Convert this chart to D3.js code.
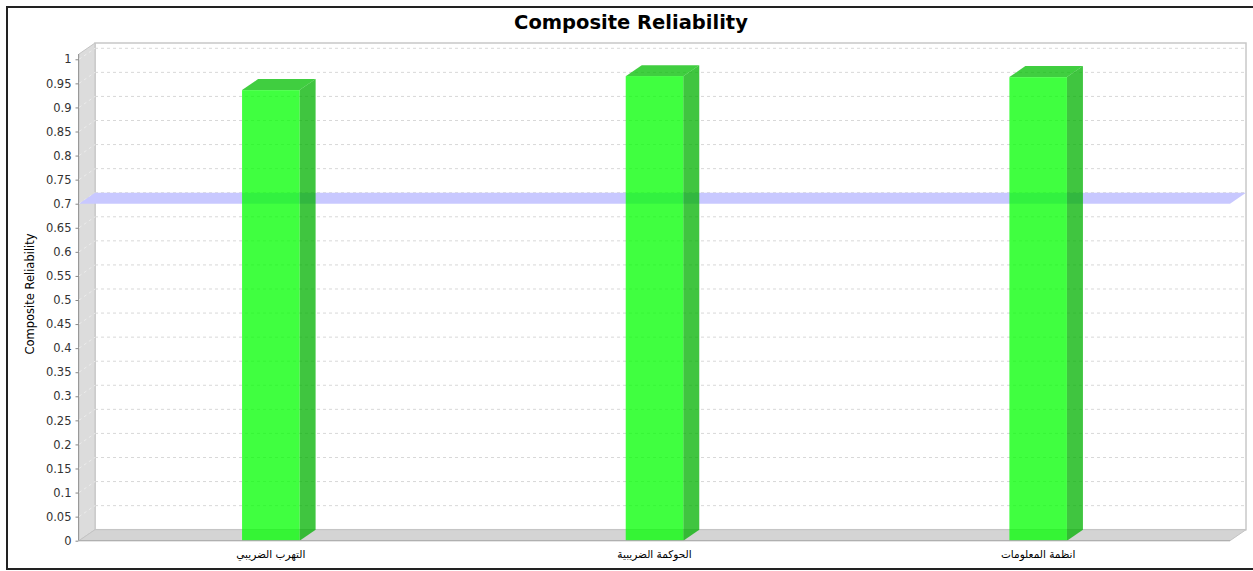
<!DOCTYPE html>
<html><head><meta charset="utf-8">
<script src="https://cdn.jsdelivr.net/npm/d3@7"></script>
<style>
html,body{margin:0;padding:0;background:#fff;}
svg{display:block;}
text{font-family:"DejaVu Sans",sans-serif;}
</style></head>
<body>
<svg id="chart" width="1253" height="571"></svg>
<script>
const categories = ["التهرب الضريبي", "الحوكمة الضريبية", "انظمة المعلومات"];
const compositeReliability = [0.936, 0.965, 0.963];
const thresholdValue = [0.7];
const yTicks = [0,0.05,0.1,0.15,0.2,0.25,0.3,0.35,0.4,0.45,0.5,0.55,0.6,0.65,0.7,0.75,0.8,0.85,0.9,0.95,1];
const titleText = "Composite Reliability";
const yLabel = "Composite Reliability";

const svg = d3.select("#chart");
const pLeft = 79, pRight = 1230, pTop = 54, pBottom = 540.7;
const dx = 16, dy = 11;

const x = d3.scaleBand().domain(categories).range([pLeft, pRight]).paddingInner(0).paddingOuter(0);
const y = d3.scaleLinear().domain([0, 1.011]).range([pBottom, pTop]);
const barW = x.bandwidth() * 0.15;

// outer border
svg.append("rect").attr("x", 7).attr("y", 7).attr("width", 1252).attr("height", 562)
  .attr("fill", "#fff").attr("stroke", "#222").attr("stroke-width", 2);

// title
svg.append("text").attr("x", 631).attr("y", 29).attr("text-anchor", "middle")
  .attr("font-size", 19.5).attr("font-weight", "bold").attr("fill", "#000").text(titleText);

// back wall
svg.append("rect").attr("x", pLeft + dx).attr("y", pTop - dy)
  .attr("width", pRight - pLeft).attr("height", pBottom - pTop)
  .attr("fill", "#fff").attr("stroke", "#c8c8c8").attr("stroke-width", 1.5);

// left wall
svg.append("polygon").attr("points", [[pLeft, pTop],[pLeft+dx, pTop-dy],[pLeft+dx, pBottom-dy],[pLeft, pBottom]].join(" "))
  .attr("fill", "#dcdcdc").attr("stroke", "#c4c4c4").attr("stroke-width", 1);
// floor
svg.append("polygon").attr("points", [[pLeft, pBottom],[pLeft+dx, pBottom-dy],[pRight+dx, pBottom-dy],[pRight, pBottom]].join(" "))
  .attr("fill", "#d4d4d4").attr("stroke", "#c4c4c4").attr("stroke-width", 1);

// gridlines
const grid = svg.append("g");
yTicks.filter(t => t > 0).forEach(t => {
  grid.append("line").attr("x1", pLeft + dx).attr("x2", pRight + dx)
    .attr("y1", y(t) - dy).attr("y2", y(t) - dy)
    .attr("stroke", "#d8d8d8").attr("stroke-width", 1).attr("stroke-dasharray", "3,3");
  grid.append("line").attr("x1", pLeft).attr("x2", pLeft + dx)
    .attr("y1", y(t)).attr("y2", y(t) - dy)
    .attr("stroke", "#ececec").attr("stroke-width", 1).attr("stroke-dasharray", "3,3");
});

// threshold band
thresholdValue.forEach(v => {
  svg.append("polygon")
    .attr("points", [[pLeft, y(v)],[pLeft+dx, y(v)-dy],[pRight+dx, y(v)-dy],[pRight, y(v)]].join(" "))
    .attr("fill", "#c8c8ff");
});

// bars
const bars = svg.append("g");
categories.forEach((c, i) => {
  const v = compositeReliability[i];
  const x0 = x(c) + (x.bandwidth() - barW) / 2;
  const yv = y(v), y0 = y(0);
  bars.append("polygon")
    .attr("points", [[x0+barW, yv],[x0+barW+dx, yv-dy],[x0+barW+dx, y0-dy],[x0+barW, y0]].join(" "))
    .attr("fill", "rgb(0,178,0)").attr("fill-opacity", 0.75);
  bars.append("polygon")
    .attr("points", [[x0, yv],[x0+dx, yv-dy],[x0+barW+dx, yv-dy],[x0+barW, yv]].join(" "))
    .attr("fill", "rgb(0,190,0)").attr("fill-opacity", 0.75);
  bars.append("rect").attr("x", x0).attr("y", yv).attr("width", barW).attr("height", y0 - yv)
    .attr("fill", "rgb(0,255,0)").attr("fill-opacity", 0.75);
});

// y axis
const yAxis = d3.axisLeft(y).tickValues(yTicks).tickSize(3).tickPadding(4)
  .tickFormat(d => String(+d.toFixed(2)));
const ga = svg.append("g").attr("transform", `translate(${pLeft - 0.5},0)`).call(yAxis);
ga.selectAll(".domain").attr("stroke", "#999").attr("d", `M0,${pTop}V${pBottom}`);
ga.selectAll(".tick line").attr("stroke", "#888");
ga.selectAll(".tick text").attr("font-size", 11.5).attr("fill", "#333").attr("font-family", "DejaVu Sans, sans-serif");

// x axis line
svg.append("line").attr("x1", pLeft).attr("x2", pRight).attr("y1", pBottom).attr("y2", pBottom)
  .attr("stroke", "#aaa").attr("stroke-width", 1);

// category labels
categories.forEach(c => {
  svg.append("text").attr("x", x(c) + x.bandwidth() / 2).attr("y", 558)
    .attr("text-anchor", "middle").attr("font-size", 10.5).attr("fill", "#000")
    .attr("direction", "rtl").attr("unicode-bidi", "embed")
    .text(c);
});

// y label
svg.append("text").attr("transform", "translate(34,294) rotate(-90)")
  .attr("text-anchor", "middle").attr("font-size", 11.5).attr("fill", "#000").text(yLabel);
</script>
</body></html>
